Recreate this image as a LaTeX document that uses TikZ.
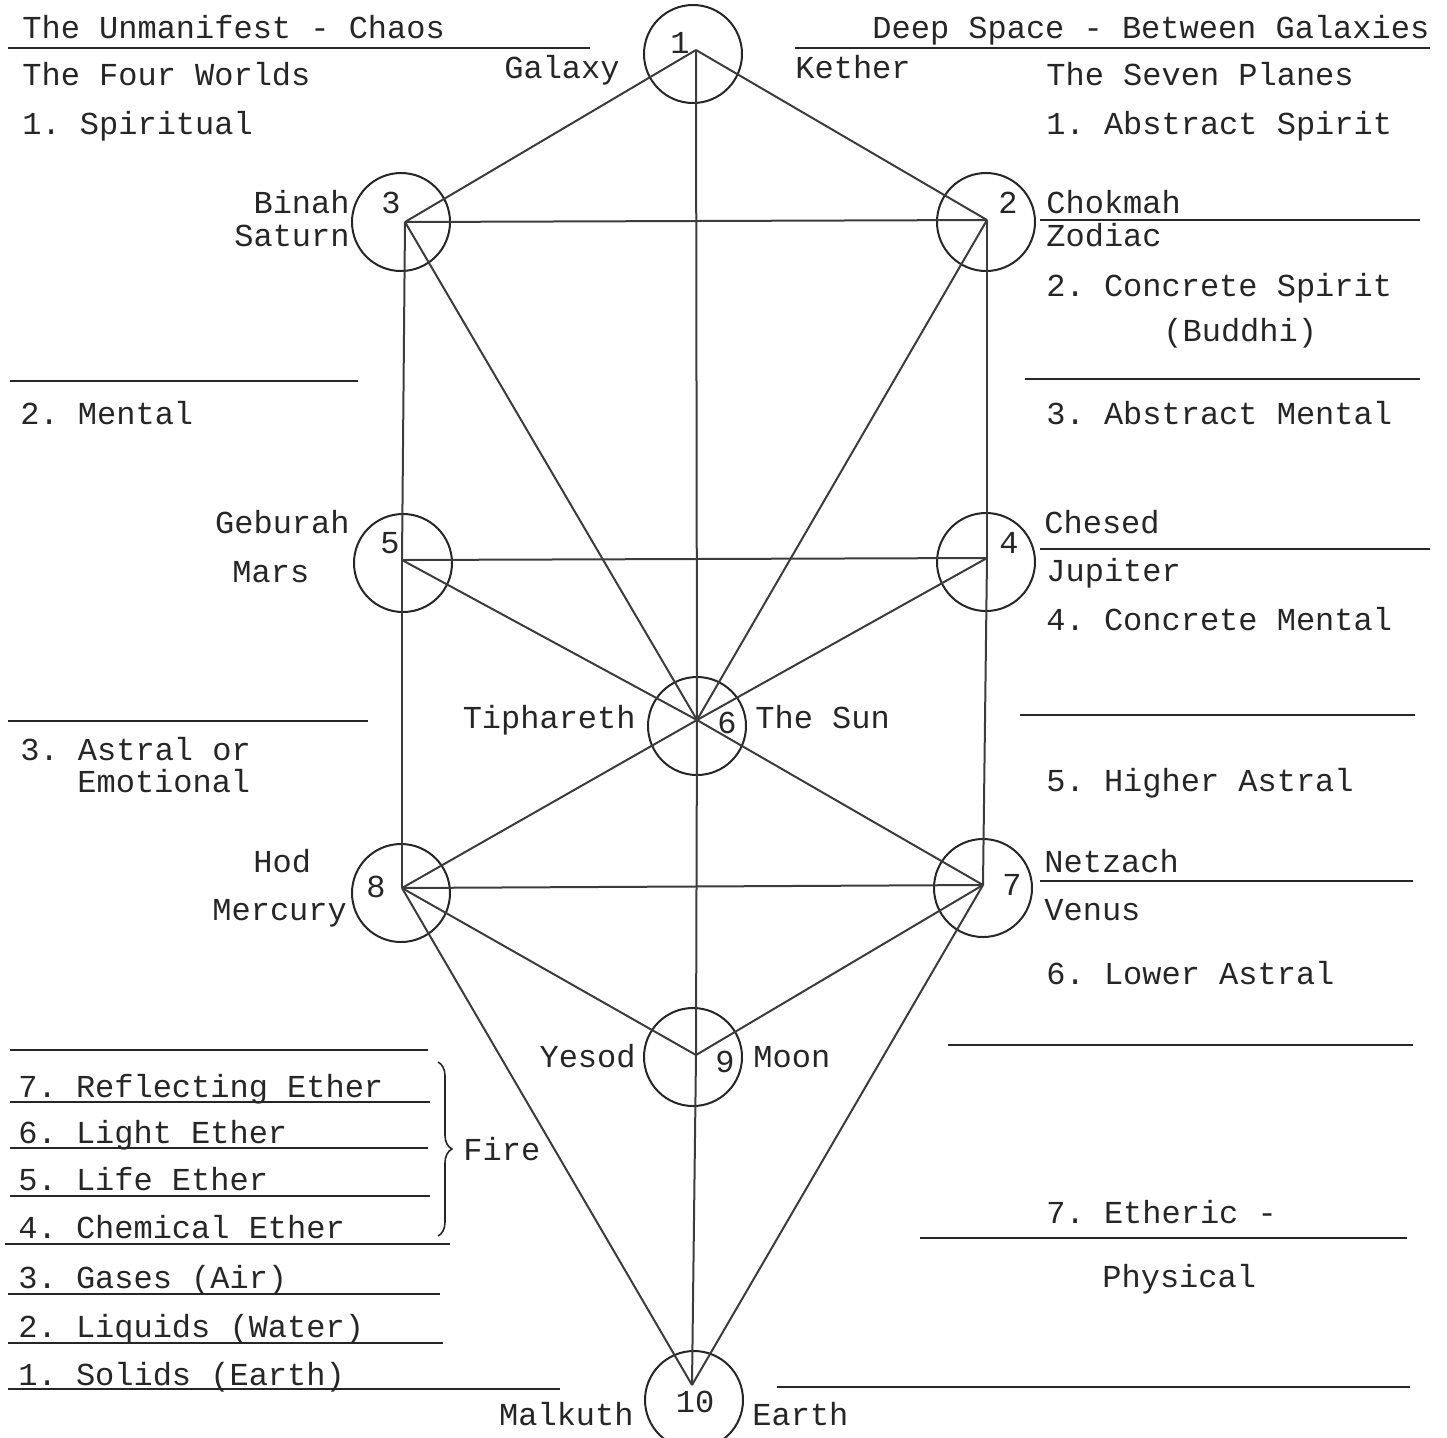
\documentclass[tikz,border=0pt]{standalone}
\usepackage{fontspec}
\newfontfamily\tw{Liberation Mono}
\usetikzlibrary{decorations.pathreplacing}
\definecolor{ink}{RGB}{38,38,38}
\frenchspacing
\tikzset{
  tw/.style={font=\tw\fontsize{16}{19}\selectfont,text=ink,inner sep=0pt},
  lbl/.style={tw,anchor=base west},
  rlbl/.style={tw,anchor=base east},
  num/.style={tw,anchor=center},
  sefira/.style={circle,draw=ink,line width=1pt,minimum size=49pt,inner sep=0pt},
  chan/.style={draw=ink!90,line width=1pt},
  rule/.style={draw=ink,line width=0.8pt},
}
\begin{document}
\begin{tikzpicture}[x=0.5pt,y=-0.5pt]
  \useasboundingbox (0,0) rectangle (1447,1437);
  % the ten circles
  \foreach \n/\x/\y in {1/693/54,2/986/222,3/401/222,4/986/562,5/403/563,
      6/697/726,7/983/888,8/401/893,9/693/1057,10/694/1400}
    \node[sefira] (c\n) at (\x,\y) {};
  % meeting points of the paths
  \coordinate (v1) at (696,50);   \coordinate (v2) at (987,220);
  \coordinate (v3) at (405,222);  \coordinate (v4) at (987,558);
  \coordinate (v5) at (402,560);  \coordinate (v6) at (697,720);
  \coordinate (v7) at (983,885);  \coordinate (v8) at (402,888);
  \coordinate (v9) at (696,1055); \coordinate (v10) at (692,1385);
  \foreach \a/\b in {1/2,1/3,1/6,2/3,2/4,2/6,3/5,3/6,4/5,4/6,4/7,5/6,5/8,
      6/7,6/8,6/9,7/8,7/9,7/10,8/9,8/10,9/10}
    \draw[chan] (v\a) -- (v\b);
  % numbers
  \node[num] (n1) at (680,43) {1};
  \node[num] (n2) at (1008,203) {2};
  \node[num] (n3) at (391,203) {3};
  \node[num] (n4) at (1009,543) {4};
  \node[num] (n5) at (390,543) {5};
  \node[num] (n6) at (727,723) {6};
  \node[num] (n7) at (1012,885) {7};
  \node[num] (n8) at (376,887) {8};
  \node[num] (n9) at (725,1062) {9};
  \node[num] (n10) at (695,1402) {10};
  % names
  \node[rlbl] (galaxy) at (620,78) {Galaxy};
  \node[lbl] (kether) at (795,78) {Kether};
  \node[rlbl] (binah) at (350,213) {Binah};
  \node[rlbl] (saturn) at (350,246) {Saturn};
  \node[lbl] (chokmah) at (1046,213) {Chokmah};
  \node[lbl] (zodiac) at (1046,246) {Zodiac};
  \node[rlbl] (geburah) at (350,533) {Geburah};
  \node[lbl] (mars) at (232,582) {Mars};
  \node[lbl] (chesed) at (1044,533) {Chesed};
  \node[lbl] (jupiter) at (1046,581) {Jupiter};
  \node[rlbl] (tiph) at (636,728) {Tiphareth};
  \node[lbl] (sun) at (755,728) {The Sun};
  \node[lbl] (hod) at (253,872) {Hod};
  \node[lbl] (mercury) at (212,920) {Mercury};
  \node[lbl] (netzach) at (1044,872) {Netzach};
  \node[lbl] (venus) at (1044,920) {Venus};
  \node[rlbl] (yesod) at (636,1067) {Yesod};
  \node[lbl] (moon) at (753,1067) {Moon};
  \node[rlbl] (malkuth) at (634,1425) {Malkuth};
  \node[lbl] (earth) at (752,1425) {Earth};
  % left column: the four worlds
  \node[lbl] (chaos) at (22,38) {The Unmanifest - Chaos};
  \node[lbl] (worlds) at (22,85) {The Four Worlds};
  \node[lbl] (w1) at (22,134) {1. Spiritual};
  \node[lbl] (w2) at (20,424) {2. Mental};
  \node[lbl] (w3) at (20,760) {3. Astral or};
  \node[lbl] (w3b) at (77,792) {Emotional};
  \node[lbl] (e7) at (18,1097) {7. Reflecting Ether};
  \node[lbl] (e6) at (18,1143) {6. Light Ether};
  \node[lbl] (e5) at (18,1190) {5. Life Ether};
  \node[lbl] (e4) at (18,1238) {4. Chemical Ether};
  \node[lbl] (e3) at (18,1288) {3. Gases (Air)};
  \node[lbl] (e2) at (18,1337) {2. Liquids (Water)};
  \node[lbl] (e1) at (18,1385) {1. Solids (Earth)};
  \draw[rule] (8,48) -- (590,48);
  \draw[rule] (10,381) -- (358,381);
  \draw[rule] (8,721) -- (368,721);
  \draw[rule] (10,1050) -- (428,1050);
  \draw[rule] (10,1102) -- (430,1102);
  \draw[rule] (10,1148) -- (428,1148);
  \draw[rule] (10,1196) -- (430,1196);
  \draw[rule] (5,1244) -- (450,1244);
  \draw[rule] (8,1294) -- (440,1294);
  \draw[rule] (8,1343) -- (443,1343);
  \draw[rule] (8,1389) -- (560,1389);
  % brace for the ethers
  \coordinate (brtop) at (438,1062);
  \coordinate (brbot) at (438,1236);
  \draw[ink,line width=0.8pt,decorate,decoration={brace,amplitude=7pt}] (brtop) -- (brbot);
  \node[lbl] (fire) at (463,1160) {Fire};
  % right column: the seven planes
  \node[lbl] (deep) at (872,38) {Deep Space - Between Galaxies};
  \node[lbl] (planes) at (1046,85) {The Seven Planes};
  \node[lbl] (p1) at (1046,134) {1. Abstract Spirit};
  \node[lbl] (p2) at (1046,296) {2. Concrete Spirit};
  \node[lbl] (p2b) at (1163,341) {(Buddhi)};
  \node[lbl] (p3) at (1046,424) {3. Abstract Mental};
  \node[lbl] (p4) at (1046,630) {4. Concrete Mental};
  \node[lbl] (p5) at (1046,791) {5. Higher Astral};
  \node[lbl] (p6) at (1046,984) {6. Lower Astral};
  \node[lbl] (p7) at (1046,1223) {7. Etheric -};
  \node[lbl] (p7b) at (1102,1287) {Physical};
  \draw[rule] (795,48) -- (1430,48);
  \draw[rule] (1040,220) -- (1420,220);
  \draw[rule] (1025,379) -- (1420,379);
  \draw[rule] (1040,549) -- (1430,549);
  \draw[rule] (1020,715) -- (1415,715);
  \draw[rule] (1040,881) -- (1413,881);
  \draw[rule] (948,1045) -- (1413,1045);
  \draw[rule] (920,1238) -- (1407,1238);
  \draw[rule] (777,1387) -- (1410,1387);
\end{tikzpicture}
\end{document}
